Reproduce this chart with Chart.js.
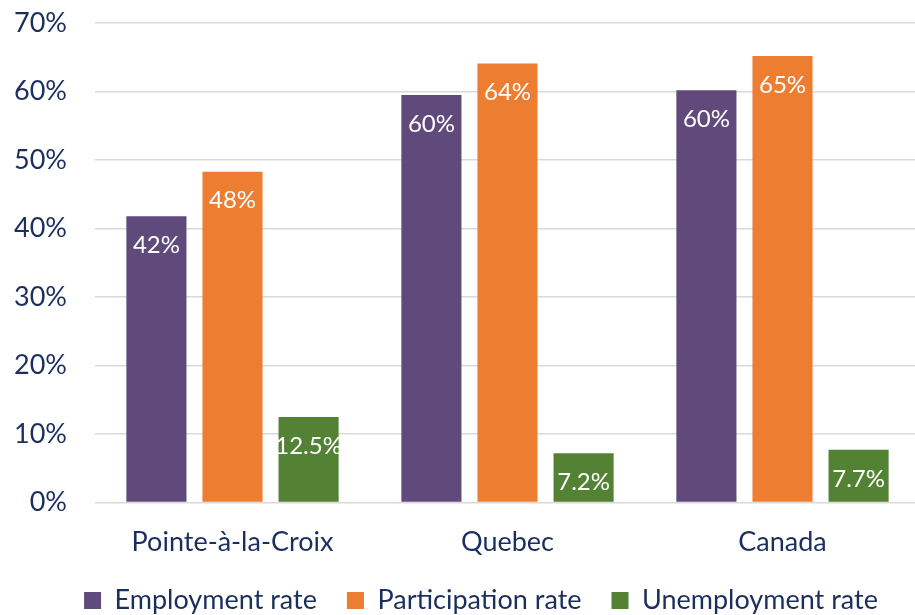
<!DOCTYPE html>
<html>
<head>
<meta charset="utf-8">
<script src="https://cdn.jsdelivr.net/npm/chart.js@4"></script>
<style>
  html, body { margin: 0; padding: 0; background: #fff; overflow: hidden; }
  #wrap { width: 920px; height: 620px; }
</style>
</head>
<body>
<div id="wrap"><canvas id="chart" width="920" height="620"></canvas></div>
<script>
var categories = ["Pointe-à-la-Croix", "Quebec", "Canada"];
var employmentRate = [41.8, 59.5, 60.2];
var participationRate = [48.3, 64.1, 65.2];
var unemploymentRate = [12.5, 7.2, 7.7];
var seriesNames = ["Employment rate", "Participation rate", "Unemployment rate"];
var labelDecimals = [0, 0, 1];
var yTicks = [0, 10, 20, 30, 40, 50, 60, 70];

var textColor = "#1b2f5e";
var fontFamily = "Lato, 'Open Sans', sans-serif";

// white value labels just under the top of each bar
var barLabels = {
    id: "barLabels",
    afterLayout: function (chart) {
        // legend sits a bit right of centre in the original
        chart.legend.left += 21;
        chart.legend.right += 21;
    },
    afterDatasetsDraw: function (chart) {
        var ctx = chart.ctx;
        ctx.save();
        ctx.fillStyle = "#ffffff";
        ctx.font = "24px " + fontFamily;
        ctx.textAlign = "center";
        ctx.textBaseline = "middle";
        chart.data.datasets.forEach(function (ds, i) {
            var meta = chart.getDatasetMeta(i);
            meta.data.forEach(function (bar, j) {
                var txt = ds.data[j].toFixed(labelDecimals[i]) + "%";
                ctx.fillText(txt, bar.x, bar.y + 29);
            });
        });
        ctx.restore();
    }
};

var ctx = document.getElementById("chart").getContext("2d");
var chart = new Chart(ctx, {
    type: "bar",
    data: {
        labels: categories,
        datasets: [
            { label: seriesNames[0], data: employmentRate, backgroundColor: "#5f4a7b" },
            { label: seriesNames[1], data: participationRate, backgroundColor: "#ed7d31" },
            { label: seriesNames[2], data: unemploymentRate, backgroundColor: "#548235" }
        ]
    },
    options: {
        responsive: false,
        animation: false,
        layout: { padding: { top: 23, right: 0, left: 0, bottom: -4 } },
        datasets: {
            bar: { categoryPercentage: 0.83, barPercentage: 0.79 }
        },
        plugins: {
            legend: {
                position: "bottom",
                labels: {
                    boxWidth: 17,
                    boxHeight: 17,
                    padding: 30,
                    color: textColor,
                    font: { family: fontFamily, size: 27 }
                }
            },
            tooltip: { enabled: false }
        },
        scales: {
            x: {
                afterFit: function (scale) { scale.height = scale.height - 16; },
                grid: { display: false },
                border: { display: false },
                ticks: {
                    color: textColor,
                    padding: 15,
                    font: { family: fontFamily, size: 27 }
                }
            },
            y: {
                min: 0,
                max: 70,
                afterFit: function (scale) {
                    scale.width = 95;
                    scale.paddingTop = 0;
                    scale.paddingBottom = 0;
                },
                afterBuildTicks: function (scale) {
                    scale.ticks = yTicks.map(function (v) { return { value: v }; });
                },
                grid: { color: "#d9d9d9", lineWidth: 1.5, drawTicks: false },
                border: { display: false },
                ticks: {
                    color: textColor,
                    padding: 28,
                    font: { family: fontFamily, size: 27 },
                    callback: function (v) { return v + "%"; }
                }
            }
        }
    },
    plugins: [barLabels]
});
</script>
</body>
</html>
